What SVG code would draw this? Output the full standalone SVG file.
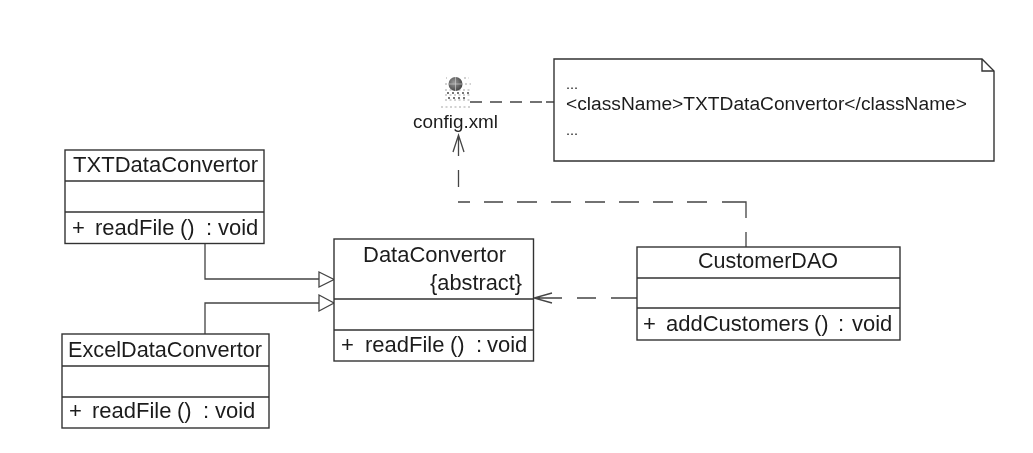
<svg xmlns="http://www.w3.org/2000/svg" width="1033" height="453" viewBox="0 0 1033 453">
<defs>
<filter id="scan" filterUnits="userSpaceOnUse" x="0" y="0" width="1033" height="453"><feGaussianBlur stdDeviation="0.45"/></filter>
<radialGradient id="globe" cx="0.4" cy="0.4" r="0.7"><stop offset="0" stop-color="#9a9a9a"/><stop offset="1" stop-color="#3c3c3c"/></radialGradient>
</defs>
<style>
.box{fill:#fff;stroke:#333;stroke-width:1.4}
.div{fill:none;stroke:#333;stroke-width:1.4}
.con{fill:none;stroke:#444;stroke-width:1.3}
.head{fill:#fff;stroke:#444;stroke-width:1.3}
text{font-family:"Liberation Sans",Arial,sans-serif;fill:#1c1c1c}
.t{font-size:22px}
.n{font-size:19.2px}
.e{font-size:14.5px}
.d{font-size:18.5px}
</style>
<rect width="1033" height="453" fill="#fff"/>
<g filter="url(#scan)">
<g id="connectors">
<path class="con" d="M205 244V279H320M205 334V303H320"/>
<path class="head" d="M319 272L334 279.500L319 287ZM319 295L334 303L319 311Z"/>
<path class="con" d="M470 102H482M490 102H502M510 102H522M530 102H542M546 102H554"/>
<path class="con" d="M746 247V232M746 218V202H722M707 202H687M673 202H653M639 202H619M605 202H585M571 202H551M537 202H517M503 202H484M470 202H458M458.500 187V170M458.500 156V136M453 152L458.500 135L464 152"/>
<path class="con" d="M637 298H611M596 298H577M562 298H534M552 293L534 298L552 303"/>
</g>
<g id="config-xml">
<g fill="none" stroke="#c4c4c4" stroke-width="1.500" stroke-dasharray="2 2.500">
<path d="M446 78H447M464 78H469M445 84H447M465 84H471M445 90H470M445 95H471M445 100H471M441 107H471"/>
</g>
<circle cx="455.500" cy="84" r="7" fill="url(#globe)"/>
<path d="M449 84H462M455.500 77V91" stroke="#ccc" stroke-width="0.700" fill="none"/>
<path d="M447 93H469M448 98H468" stroke="#777" stroke-width="2" stroke-dasharray="2 3" fill="none"/>
<text class="d" x="413" y="128" textLength="85" lengthAdjust="spacingAndGlyphs">config.xml</text>
</g>
<g id="note">
<path class="box" d="M554 59H982L994 71V161H554Z"/>
<path class="div" d="M982 59V71H994"/>
<text class="e" x="566" y="89">...</text>
<text class="n" x="566" y="110" textLength="401" lengthAdjust="spacingAndGlyphs">&lt;className&gt;TXTDataConvertor&lt;/className&gt;</text>
<text class="e" x="566" y="135">...</text>
</g>
<g id="TXTDataConvertor">
<rect class="box" x="65" y="150" width="199" height="93.500"/>
<path class="div" d="M65 181H264M65 212H264"/>
<text class="t" x="73" y="172" textLength="185" lengthAdjust="spacingAndGlyphs">TXTDataConvertor</text>
<text class="t" y="235"><tspan x="72">+</tspan><tspan x="95">readFile</tspan><tspan x="180">()</tspan><tspan x="206">:</tspan><tspan x="218">void</tspan></text>
</g>
<g id="ExcelDataConvertor">
<rect class="box" x="62" y="334" width="207" height="94"/>
<path class="div" d="M62 366H269M62 397H269"/>
<text class="t" x="68" y="357" textLength="194" lengthAdjust="spacingAndGlyphs">ExcelDataConvertor</text>
<text class="t" y="418"><tspan x="69">+</tspan><tspan x="92">readFile</tspan><tspan x="177">()</tspan><tspan x="203">:</tspan><tspan x="215">void</tspan></text>
</g>
<g id="DataConvertor">
<rect class="box" x="334" y="239" width="199.500" height="122"/>
<path class="div" d="M334 299H533.500M334 330H533.500"/>
<text class="t" x="363" y="262" textLength="143" lengthAdjust="spacingAndGlyphs">DataConvertor</text>
<text class="t" x="430" y="290" textLength="92" lengthAdjust="spacingAndGlyphs">{abstract}</text>
<text class="t" y="352"><tspan x="341">+</tspan><tspan x="365">readFile</tspan><tspan x="450">()</tspan><tspan x="476">:</tspan><tspan x="487">void</tspan></text>
</g>
<g id="CustomerDAO">
<rect class="box" x="637" y="247" width="263" height="93"/>
<path class="div" d="M637 278H900M637 308H900"/>
<text class="t" x="698" y="268" textLength="140" lengthAdjust="spacingAndGlyphs">CustomerDAO</text>
<text class="t" y="331"><tspan x="643">+</tspan><tspan x="666">addCustomers</tspan><tspan x="814">()</tspan><tspan x="838">:</tspan><tspan x="852">void</tspan></text>
</g>
</g>
</svg>
